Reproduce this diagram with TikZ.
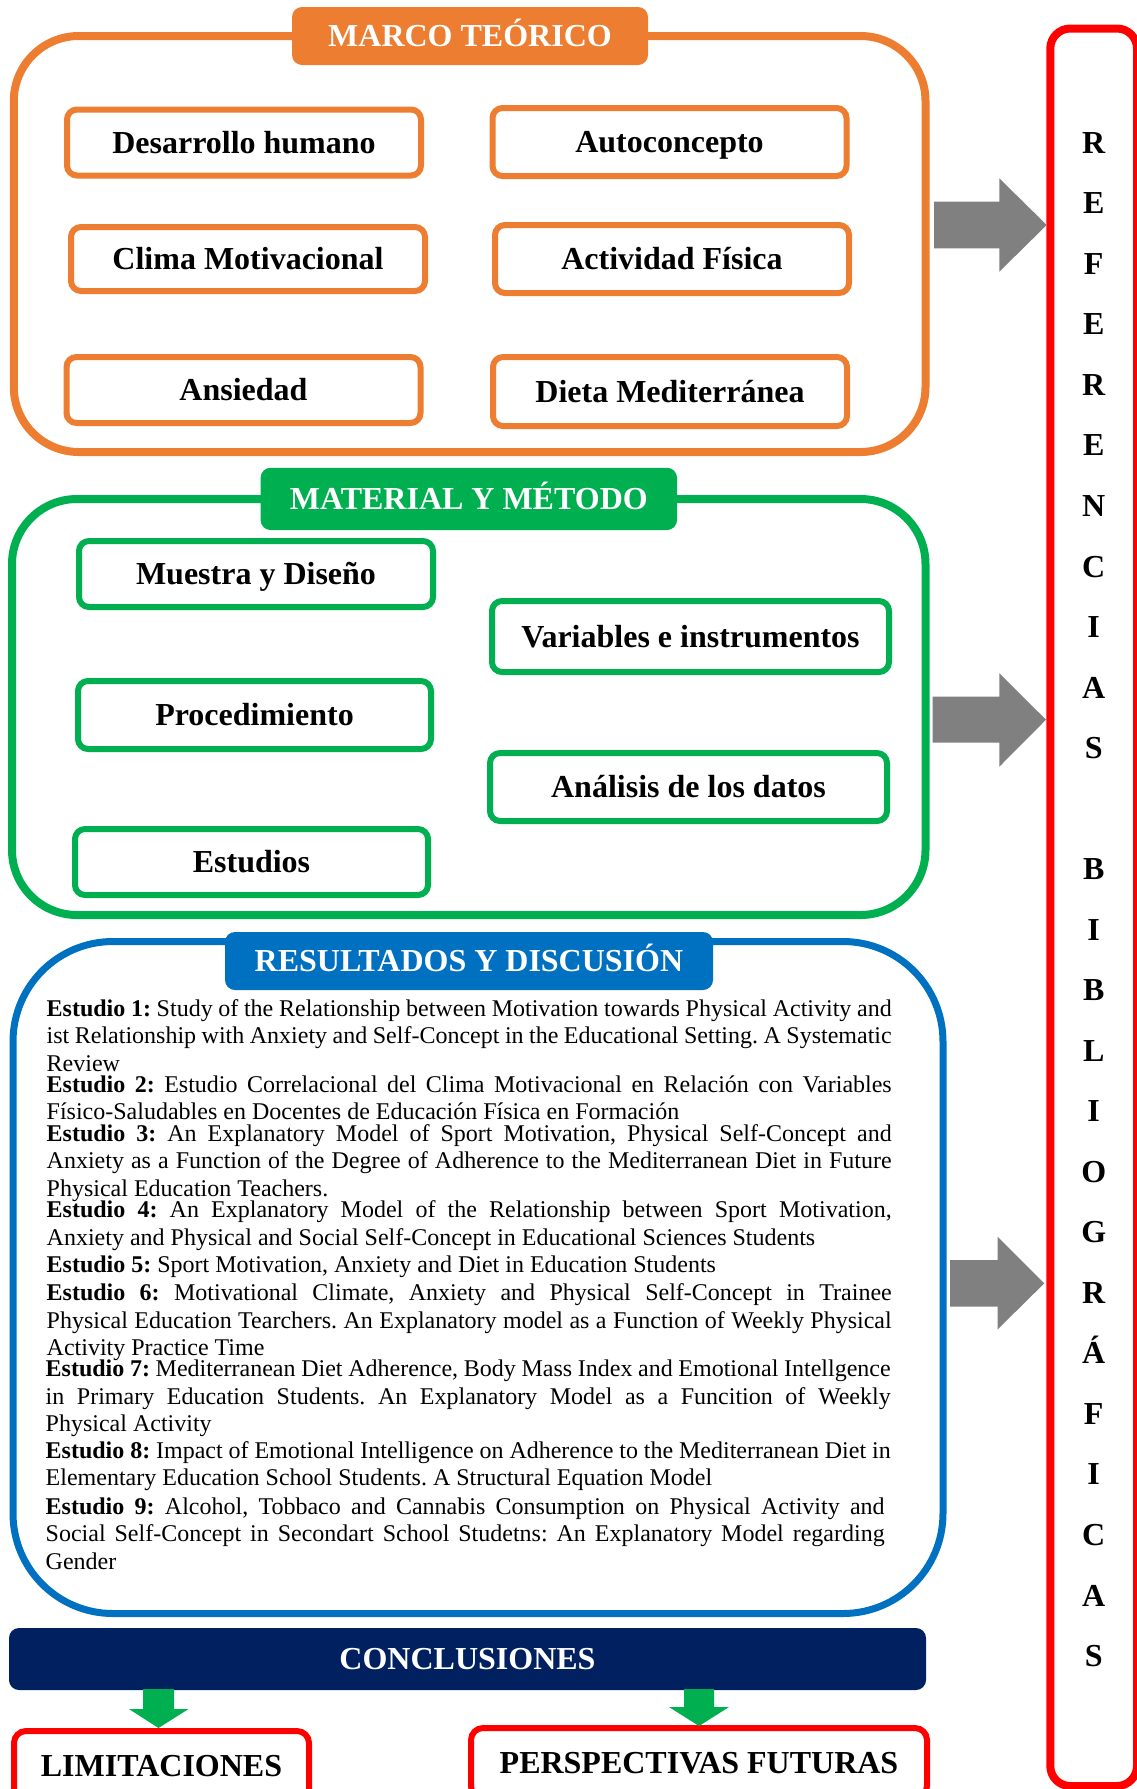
\documentclass[tikz,border=0pt]{standalone}
\usepackage{fontspec}
\setmainfont{Liberation Serif}
\frenchspacing

\definecolor{naranja}{HTML}{ED7D31}
\definecolor{verde}{HTML}{00B050}
\definecolor{azul}{HTML}{0070C0}
\definecolor{marino}{HTML}{002060}
\definecolor{rojo}{HTML}{FF0000}
\definecolor{gris}{HTML}{808080}

\newcommand\hdfont{\fontsize{32pt}{38pt}\selectfont\bfseries}
\newcommand\bodyfont{\fontsize{24pt}{27.5pt}\selectfont}
% one justified line of a study entry, and a closing (natural width) line
\newcommand\jline[2][845pt]{\hbox to #1{#2}}
\newcommand\lline[1]{\hbox{#1}}
% stacks the lines so that the node's baseline is the first line's baseline
\newcommand\estpar[1]{\vtop{\lineskiplimit=-100pt #1}}

\begin{document}
\begin{tikzpicture}[x=1pt,y=-1pt,
  container/.style={draw, line width=8pt, rounded corners=65pt, inner sep=0pt},
  header/.style={rounded corners=10pt, text=white, font=\hdfont, inner sep=0pt,
                 text height=21.2pt, text depth=0pt},
  itembox/.style={draw, fill=white, line width=6pt, rounded corners=10pt, font=\hdfont,
                  inner sep=0pt, text height=21.2pt, text depth=0pt,
                  minimum width=354pt, minimum height=66pt},
  study/.style={anchor=base west, inner sep=0pt, font=\bodyfont},
  refletter/.style={anchor=base, inner sep=0pt, font=\hdfont},
  blockarrow/.style={fill=gris},
  downarrow/.style={fill=verde}]

\useasboundingbox (0,0) rectangle (1137,1789);
\clip (0,0) rectangle (1137,1789);

% ---------- Marco teórico ----------
\node[container, draw=naranja, minimum width=911.7pt, minimum height=416pt] (marco) at (469.65,244) {};
\node[header, fill=naranja, minimum width=356pt, minimum height=58pt] (marcot) at (470,36) {MARCO TEÓRICO};
\node[itembox, draw=naranja] (desarrollo) at (244,142.5) {Desarrollo humano};
\node[itembox, draw=naranja, minimum height=68pt] (autoconcepto) at (669.5,142) {Autoconcepto};
\node[itembox, draw=naranja, minimum height=64pt] (clima) at (248,259) {Clima Motivacional};
\node[itembox, draw=naranja, minimum height=68pt] (actividad) at (672,259) {Actividad Física};
\node[itembox, draw=naranja] (ansiedad) at (243.5,390) {Ansiedad};
\node[itembox, draw=naranja, minimum height=69pt] (dieta) at (670,391.5) {Dieta Mediterránea};

% ---------- Material y método ----------
\node[container, draw=verde, minimum width=913.5pt, minimum height=416pt] (metodo) at (468.75,707) {};
\node[header, fill=verde, minimum width=416.4pt, minimum height=62.3pt] (metodot) at (468.8,498.9) {MATERIAL Y MÉTODO};
\node[itembox, draw=verde] (muestra) at (256,574) {Muestra y Diseño};
\node[itembox, draw=verde, minimum width=397pt, minimum height=71pt] (variables) at (690.5,636.5) {Variables e instrumentos};
\node[itembox, draw=verde, minimum width=353pt, minimum height=68pt] (procedimiento) at (254.5,715) {Procedimiento};
\node[itembox, draw=verde, minimum width=397pt, minimum height=68pt] (analisis) at (688.5,787) {Análisis de los datos};
\node[itembox, draw=verde, minimum width=353pt] (estudios) at (251.5,862) {Estudios};

% ---------- Resultados y discusión ----------
\node[container, draw=azul, line width=7pt, rounded corners=100pt, minimum width=930pt, minimum height=672pt] (result) at (478,1277.5) {};
\node[header, fill=azul, minimum width=488pt, minimum height=58pt] (resultt) at (469,961) {RESULTADOS Y DISCUSIÓN};

\node[study] (e1) at (46.5,1016) {\estpar{%
\jline{\textbf{Estudio 1:} Study of the Relationship between Motivation towards Physical Activity and}%
\jline{ist Relationship with Anxiety and Self-Concept in the Educational Setting. A Systematic}%
\lline{Review}}};
\node[study] (e2) at (46.5,1092.3) {\estpar{%
\jline{\textbf{Estudio 2:} Estudio Correlacional del Clima Motivacional en Relación con Variables}%
\lline{Físico-Saludables en Docentes de Educación Física en Formación}}};
\node[study] (e3) at (46.5,1141) {\estpar{%
\jline{\textbf{Estudio 3:} An Explanatory Model of Sport Motivation, Physical Self-Concept and}%
\jline{Anxiety as a Function of the Degree of Adherence to the Mediterranean Diet in Future}%
\lline{Physical Education Teachers.}}};
\node[study] (e4) at (46.5,1217.7) {\estpar{%
\jline{\textbf{Estudio 4:} An Explanatory Model of the Relationship between Sport Motivation,}%
\lline{Anxiety and Physical and Social Self-Concept in Educational Sciences Students}}};
\node[study] (e5) at (46.5,1272.7) {\estpar{%
\lline{\textbf{Estudio 5:} Sport Motivation, Anxiety and Diet in Education Students}}};
\node[study] (e6) at (46.5,1300.7) {\estpar{%
\jline{\textbf{Estudio 6:} Motivational Climate, Anxiety and Physical Self-Concept in Trainee}%
\jline{Physical Education Tearchers. An Explanatory model as a Function of Weekly Physical}%
\lline{Activity Practice Time}}};
\node[study] (e7) at (45.5,1376.7) {\estpar{%
\jline{\textbf{Estudio 7:} Mediterranean Diet Adherence, Body Mass Index and Emotional Intellgence}%
\jline{in Primary Education Students. An Explanatory Model as a Funcition of Weekly}%
\lline{Physical Activity}}};
\node[study] (e8) at (45.5,1458.3) {\estpar{%
\jline{\textbf{Estudio 8:} Impact of Emotional Intelligence on Adherence to the Mediterranean Diet in}%
\lline{Elementary Education School Students. A Structural Equation Model}}};
\node[study] (e9) at (45.5,1514) {\estpar{%
\jline[839pt]{\textbf{Estudio 9:} Alcohol, Tobbaco and Cannabis Consumption on Physical Activity and}%
\jline[839pt]{Social Self-Concept in Secondart School Studetns: An Explanatory Model regarding}%
\lline{Gender}}};

% ---------- Conclusiones ----------
\node[header, fill=marino, minimum width=917pt, minimum height=62pt] (concl) at (467.5,1659) {CONCLUSIONES};
\node[itembox, draw=rojo, rounded corners=12pt, minimum width=295pt, minimum height=70pt] (lim) at (161.5,1766) {LIMITACIONES};
\node[itembox, draw=rojo, rounded corners=12pt, minimum width=456pt, minimum height=70pt] (persp) at (699,1763) {PERSPECTIVAS FUTURAS};

% green arrows from the conclusions down to both boxes
\fill[downarrow] (143,1689) -- (174,1689) -- (174,1709) -- (188.5,1709) -- (158.5,1728)
  -- (129,1709) -- (143,1709) -- cycle;
\fill[downarrow] (684,1689) -- (714,1689) -- (714,1707) -- (729,1707) -- (699,1726)
  -- (669,1707) -- (684,1707) -- cycle;

% ---------- Referencias bibliográficas ----------
\node[draw=rojo, line width=8pt, rounded corners=20pt, inner sep=0pt,
      minimum width=86.7pt, minimum height=1757.5pt] (refs) at (1093.65,907.25) {};
\foreach \ch [count=\k from 0] in {R,E,F,E,R,E,N,C,I,A,S}
  \node[refletter] (ra\k) at (1093.7,{153.3+60.53*\k}) {\ch};
\foreach \ch [count=\k from 12] in {B,I,B,L,I,O,G,R,Á,F,I,C,A,S}
  \node[refletter] (rb\k) at (1093.7,{153.3+60.53*\k}) {\ch};

% gray block arrows pointing to the references column
\fill[blockarrow] (934,201.7) -- (999.3,201.7) -- (999.3,178.3) -- (1046.7,225)
  -- (999.3,271.7) -- (999.3,248.3) -- (934,248.3) -- cycle;
\fill[blockarrow] (932.7,696.7) -- (999.3,696.7) -- (999.3,673.3) -- (1046,719.7)
  -- (999.3,766.7) -- (999.3,742.7) -- (932.7,742.7) -- cycle;
\fill[blockarrow] (950,1260) -- (997.7,1260) -- (997.7,1236.7) -- (1044.3,1283.3)
  -- (997.7,1329.3) -- (997.7,1306.7) -- (950,1306.7) -- cycle;

\end{tikzpicture}
\end{document}
